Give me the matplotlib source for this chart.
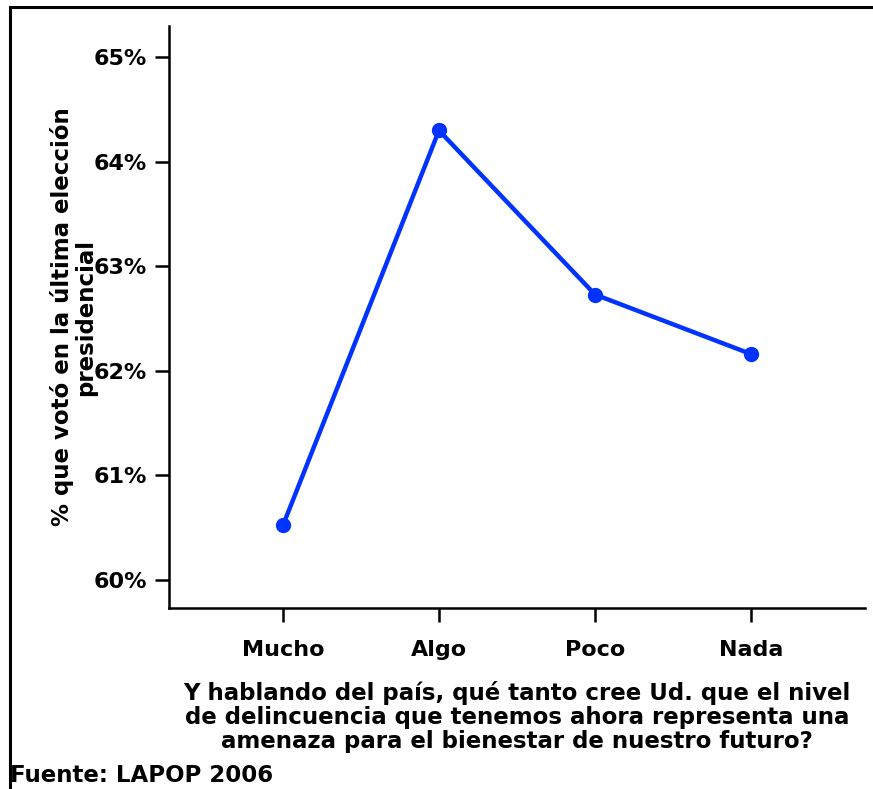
import matplotlib.pyplot as plt
from matplotlib.lines import Line2D
from matplotlib.ticker import FuncFormatter

# datos
categorias = ['Mucho', 'Algo', 'Poco', 'Nada']
porcentaje_voto = [60.52, 64.30, 62.73, 62.16]
ticks_y = [60, 61, 62, 63, 64, 65]

plt.rcParams['font.family'] = ['DejaVu Sans']
plt.rcParams['font.weight'] = 'bold'

fig = plt.figure(figsize=(8.73, 7.89), dpi=100)
ax = fig.add_axes([169 / 873, 1 - 608 / 789, (865 - 169) / 873, (608 - 26) / 789])

x = list(range(len(categorias)))
ax.plot(x, porcentaje_voto, color='#0033ff', linewidth=3.2,
        marker='o', markersize=10, solid_joinstyle='miter')

ax.set_xlim(-0.73, 3.73)
ax.set_ylim(59.73, 65.30)
ax.set_xticks(x)
ax.set_xticklabels(categorias, fontsize=16, fontweight='bold')
ax.set_yticks(ticks_y)
ax.yaxis.set_major_formatter(FuncFormatter(lambda v, p: '%d%%' % v))
for lab in ax.get_yticklabels():
    lab.set_fontsize(16)
    lab.set_fontweight('bold')

ax.spines['top'].set_visible(False)
ax.spines['right'].set_visible(False)
ax.spines['left'].set_linewidth(1.8)
ax.spines['bottom'].set_linewidth(1.8)
ax.tick_params(axis='both', direction='out', length=10, width=1.8, pad=6)
ax.tick_params(axis='x', pad=13)

ax.set_ylabel('% que votó en la última elección\npresidencial',
              fontsize=16.5, fontweight='bold', linespacing=1.0, labelpad=-3)
ax.set_xlabel('Y hablando del país, qué tanto cree Ud. que el nivel\n'
              'de delincuencia que tenemos ahora representa una\n'
              'amenaza para el bienestar de nuestro futuro?',
              fontsize=16.5, fontweight='bold', linespacing=1.07, labelpad=15)

fig.text(10 / 873, 1 - 776 / 789, 'Fuente: LAPOP 2006', fontsize=16.5,
         fontweight='bold', ha='left', va='center')

# marco exterior (solo arriba e izquierda visibles)
fig.add_artist(Line2D([10 / 873, 10 / 873], [0, 1 - 7 / 789], color='black',
                      linewidth=2.2, transform=fig.transFigure))
fig.add_artist(Line2D([10 / 873, 1], [1 - 7 / 789, 1 - 7 / 789], color='black',
                      linewidth=2.2, transform=fig.transFigure))

fig.savefig('out.png', dpi=100)
